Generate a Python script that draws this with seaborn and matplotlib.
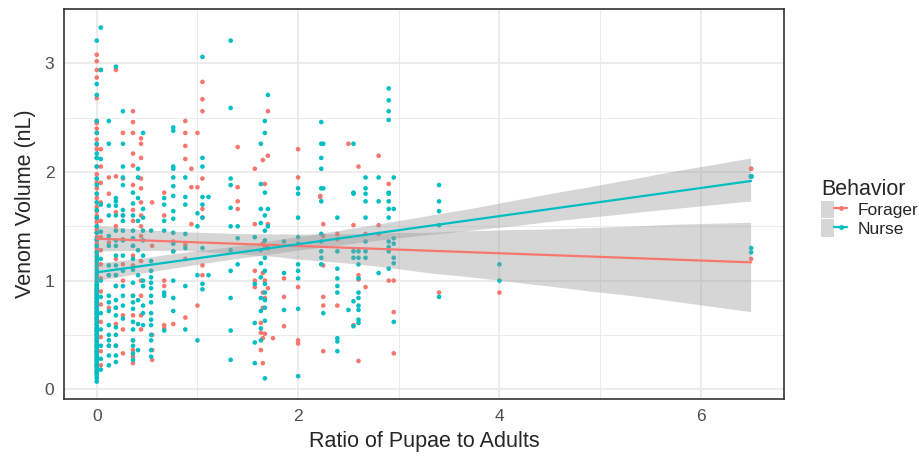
import numpy as np
import pandas as pd
import matplotlib
matplotlib.use("Agg")
import matplotlib.pyplot as plt
import seaborn as sns
from matplotlib.lines import Line2D
from matplotlib.patches import Patch
from matplotlib.legend_handler import HandlerTuple
from matplotlib.collections import PolyCollection
from matplotlib.ticker import MultipleLocator

# Venom volume (nL) per colony ratio of pupae to adults
# column by column. Each x value has a list of y values (the x = 0 column is
# heavily overplotted, so many of its points sit on top of each other).
FORAGER_X = [0, 0.04, 0.12, 0.19, 0.26, 0.36, 0.44, 0.55, 0.67, 0.76, 0.88, 0.94,
             1.0, 1.05, 1.4, 1.57, 1.63, 1.65, 1.67, 1.7, 1.75, 1.86, 2.0, 2.22,
             2.25, 2.39, 2.5, 2.55, 2.6, 2.67, 2.8, 2.9, 2.95, 3.4, 4.0, 6.5]
FORAGER_Y = [
    [3.08, 3.02, 2.94, 2.87, 2.68, 2.47, 2.45, 2.40, 2.36, 2.30, 2.25, 2.21, 2.13,
     2.05, 1.98, 1.94, 1.90, 1.85, 1.80, 1.76, 1.72, 1.68, 1.64, 1.60, 1.57, 1.54,
     1.50, 1.47, 1.44, 1.40, 1.37, 1.34, 1.30, 1.27, 1.24, 1.20, 1.16, 1.12, 1.08,
     1.04, 1.00, 0.96, 0.92, 0.88, 0.84, 0.80, 0.75, 0.70, 0.65, 0.60, 0.55, 0.50,
     0.45, 0.40, 0.34, 0.28, 0.22, 0.16],
    [2.94, 2.21, 2.05, 1.90, 1.72, 1.55, 1.40, 1.28, 1.15, 1.02, 0.90, 0.78, 0.62,
     0.48, 0.35, 0.22],
    [1.95, 1.80, 1.35, 1.05, 0.75, 0.40],
    [2.94, 1.96, 1.63, 1.50, 1.20, 1.05, 0.95, 0.75, 0.60, 0.40],
    [2.36, 1.94, 1.60, 1.38, 1.15, 1.00, 0.68, 0.55, 0.33],
    [2.56, 2.46, 2.36, 2.17, 2.06, 1.88, 1.65, 1.55, 1.32, 1.23, 1.14, 0.86, 0.68,
     0.45, 0.36, 0.30, 0.24],
    [2.31, 2.26, 2.13, 1.94, 1.85, 1.72, 1.60, 1.50, 1.41, 1.18, 1.00, 0.86, 0.68,
     0.55],
    [1.72, 1.32, 0.50, 0.36, 0.27],
    [1.81, 1.60, 1.00, 0.95, 0.59, 0.56],
    [1.36, 1.27, 0.60],
    [2.47, 2.36, 2.24, 2.12, 1.33, 1.20, 0.66],
    [2.03, 1.86, 1.52],
    [2.36, 1.86, 0.77],
    [2.83, 2.67, 2.56, 1.94, 1.66, 1.58, 1.14, 1.05],
    [2.23, 1.86, 1.73, 1.66],
    [2.03, 1.52, 1.09, 1.00, 0.94],
    [0.61, 0.52, 0.36],
    [2.11, 1.34, 1.07, 0.89, 0.75, 0.47, 0.24],
    [1.89, 1.31, 1.00, 0.84, 0.51],
    [2.56, 2.15, 1.52, 0.93],
    [0.47],
    [1.02, 0.85, 0.58],
    [2.21, 1.95, 0.94, 0.45, 0.42],
    [1.78, 1.77],
    [1.52, 1.41, 1.14, 0.85, 0.77, 0.35],
    [1.43, 1.38, 0.77],
    [2.26],
    [1.51, 0.59],
    [2.05, 1.05, 1.01, 0.26],
    [1.43, 0.94],
    [2.15, 1.51, 1.43],
    [1.89, 1.00],
    [1.00, 0.71, 0.33],
    [0.89],
    [0.89],
    [2.03, 2.03, 1.20],
]

NURSE_X = [0, 0.04, 0.12, 0.19, 0.26, 0.36, 0.41, 0.46, 0.54, 0.67, 0.76, 0.88,
           1.0, 1.05, 1.11, 1.33, 1.4, 1.57, 1.63, 1.67, 1.7, 1.86, 2.0, 2.23,
           2.25, 2.39, 2.5, 2.55, 2.6, 2.67, 2.8, 2.9, 2.95, 3.4, 4.0, 6.5]
NURSE_Y = [
    [3.21, 2.81, 2.71, 2.47, 2.36, 2.26, 2.17, 2.13, 2.05, 1.94, 1.88, 1.80, 1.72,
     1.65, 1.58, 1.50, 1.44, 1.38, 1.32, 1.26, 1.22, 1.18, 1.14, 1.10, 1.06, 1.02,
     0.98, 0.95, 0.92, 0.89, 0.86, 0.83, 0.80, 0.77, 0.74, 0.71, 0.68, 0.65, 0.62,
     0.59, 0.56, 0.53, 0.50, 0.47, 0.44, 0.41, 0.38, 0.35, 0.32, 0.29, 0.26, 0.23,
     0.20, 0.17, 0.14, 0.07,
     0.96, 0.93, 0.90, 0.87, 0.84, 0.81, 0.78, 0.75, 0.72, 0.69, 0.66, 0.63, 0.60,
     0.57, 0.54, 0.51, 0.48, 0.45, 0.42, 0.39, 0.36, 0.33, 0.30, 0.27, 0.24, 0.21,
     0.18, 0.15, 0.12, 0.10],
    [3.33, 2.94, 2.12, 1.70, 1.45, 1.20, 1.00, 0.85, 0.70, 0.55, 0.40, 0.28, 0.18],
    [2.47, 2.26, 1.69, 1.60, 1.41, 1.32, 1.14, 1.05, 0.86, 0.80, 0.72, 0.59, 0.50,
     0.45, 0.40, 0.31, 0.22],
    [2.97, 1.76, 1.73, 1.69, 1.60, 1.46, 1.37, 1.32, 1.23, 1.14, 1.05, 0.95, 0.82,
     0.75, 0.68, 0.57, 0.50, 0.40, 0.31, 0.25],
    [2.56, 2.26, 2.05, 1.95, 1.88, 1.65, 1.60, 1.55, 1.46, 1.37, 1.23, 1.09, 0.95,
     0.86, 0.77, 0.65],
    [1.81, 1.71, 1.60, 1.46, 1.39, 1.32, 1.20, 1.10, 0.98, 0.86, 0.80, 0.74, 0.62,
     0.55, 0.45, 0.40, 0.33, 0.27],
    [2.03, 1.95, 1.76, 1.55, 1.28, 1.05, 0.82, 0.60, 0.36],
    [2.36, 1.66, 1.58, 1.46, 1.37, 1.23, 1.00, 0.95, 0.77, 0.70, 0.59],
    [1.46, 1.18, 1.09, 1.03, 0.98, 0.93, 0.86, 0.80, 0.70, 0.64, 0.59, 0.50, 0.45,
     0.36, 0.30],
    [1.76, 1.70, 1.55, 1.46, 0.89, 0.86, 0.54],
    [2.41, 2.38, 2.05, 2.03, 1.95, 1.87, 1.78, 1.64, 1.57, 1.44, 1.34, 1.27, 1.00,
     0.84, 0.72],
    [1.95, 1.77, 1.70, 1.43, 1.30, 0.95, 0.55],
    [1.62, 1.50, 1.05, 0.45],
    [3.06, 2.13, 2.05, 1.77, 1.70, 1.58, 1.30, 0.97, 0.92],
    [1.77, 1.05],
    [3.21, 2.59, 1.94, 1.88, 1.67, 1.50, 1.28, 1.09, 0.84, 0.54, 0.27],
    [1.50, 1.39, 1.15],
    [1.40, 0.97, 0.61, 0.43, 0.24],
    [2.26, 1.89, 1.66, 1.53, 1.28, 1.16, 1.03, 0.84, 0.72, 0.56, 0.45],
    [2.47, 2.36, 1.81, 1.60, 1.46, 1.37, 1.21, 1.09, 0.97, 0.89, 0.82, 0.75, 0.63,
     0.10],
    [2.71, 1.66, 1.50, 1.30],
    [1.36, 1.07, 0.73],
    [1.85, 1.80, 1.58, 1.40, 1.34, 1.15, 1.09, 1.02, 0.74, 0.12],
    [2.46, 2.26, 2.13, 2.03, 1.85, 1.73, 1.43, 1.36, 1.27, 1.21, 1.15],
    [2.26, 1.85, 0.70],
    [1.58, 1.27, 1.11, 1.02, 0.95, 0.89, 0.47, 0.44, 0.35],
    [0.73],
    [2.26, 1.81, 1.80, 1.27, 1.21, 0.81, 0.58],
    [1.27, 1.21, 1.15, 1.02, 0.89, 0.84, 0.77, 0.73, 0.64, 0.61],
    [1.95, 1.85, 1.80, 1.73, 1.58, 1.36, 1.27, 1.21],
    [1.95, 1.73, 1.07],
    [2.77, 2.66, 2.56, 2.48, 1.81, 1.80, 1.73, 1.66, 1.58, 1.36, 1.31, 1.27, 1.11],
    [1.95, 1.66, 1.39, 1.34, 1.21, 1.16, 0.62],
    [1.88, 1.73, 1.64, 1.51, 0.85],
    [1.15, 1.00],
    [1.96, 1.96, 1.96, 1.96, 1.96, 1.96, 1.96, 1.96, 1.30, 1.26],
]

BEHAVIORS = ["Forager", "Nurse"]
COLORS = {"Forager": "#F8766D", "Nurse": "#00BFC4"}
BAND = "#999999"


def to_frame(label, xs, ys):
    rows = [(label, x, y) for x, col in zip(xs, ys) for y in col]
    return pd.DataFrame(rows, columns=["Behavior", "ratio", "venom"])


df = pd.concat([to_frame("Forager", FORAGER_X, FORAGER_Y),
                to_frame("Nurse", NURSE_X, NURSE_Y)], ignore_index=True)

sns.set_style("white")
plt.rcParams["font.family"] = ["Liberation Sans", "DejaVu Sans"]

fig = plt.figure(figsize=(9.2, 4.57), dpi=100)
ax = fig.add_axes([0.0696, 0.127, 0.7824, 0.853])

sns.scatterplot(data=df, x="ratio", y="venom", hue="Behavior", hue_order=BEHAVIORS,
                palette=COLORS, s=11, linewidth=0, ax=ax, legend=False, zorder=2)

# linear fit + 95% band per behaviour, band recoloured grey like ggplot's se
for b in BEHAVIORS:
    sub = df[df["Behavior"] == b]
    n_before = len(ax.collections)
    sns.regplot(data=sub, x="ratio", y="venom", scatter=False, ax=ax, seed=1,
                color=COLORS[b], line_kws={"lw": 1.6, "zorder": 4})
    for coll in ax.collections[n_before:]:
        if isinstance(coll, PolyCollection):
            coll.set_facecolor(BAND)
            coll.set_alpha(0.4)
            coll.set_edgecolor("none")
            coll.set_zorder(3)

ax.set_xlim(-0.325, 6.825)
ax.set_ylim(-0.09, 3.5)
ax.xaxis.set_major_locator(MultipleLocator(2))
ax.xaxis.set_minor_locator(MultipleLocator(1))
ax.yaxis.set_major_locator(MultipleLocator(1))
ax.yaxis.set_minor_locator(MultipleLocator(0.5))
ax.grid(which="major", color="#EBEBEB", lw=1.3, zorder=0)
ax.grid(which="minor", color="#EBEBEB", lw=0.7, zorder=0)
ax.set_axisbelow(True)
for s in ax.spines.values():
    s.set_color("#333333")
    s.set_linewidth(1.2)
ax.tick_params(which="major", length=4, width=1.1, color="#333333",
               labelsize=12.5, labelcolor="#4D4D4D", pad=3)
ax.tick_params(which="minor", length=0)
ax.set_xlabel("Ratio of Pupae to Adults", fontsize=15.5, labelpad=5)
ax.set_ylabel("Venom Volume (nL)", fontsize=15.5, labelpad=6)

handles = []
for b in BEHAVIORS:
    bg = Patch(facecolor=BAND, alpha=0.4, edgecolor="none")
    ln = Line2D([], [], color=COLORS[b], lw=1.6, marker="o", markersize=3.5,
                markeredgewidth=0)
    handles.append((bg, ln))
leg = fig.legend(handles, BEHAVIORS, handler_map={tuple: HandlerTuple(ndivide=None, pad=0)},
                 loc="center left", bbox_to_anchor=(0.885, 0.545), frameon=False,
                 title="Behavior", title_fontsize=15.5, fontsize=12.5,
                 handlelength=1.5, handleheight=1.2, handletextpad=0.6,
                 labelspacing=0.05, borderaxespad=0)
leg._legend_box.align = "left"

fig.savefig("out.png", dpi=100)
